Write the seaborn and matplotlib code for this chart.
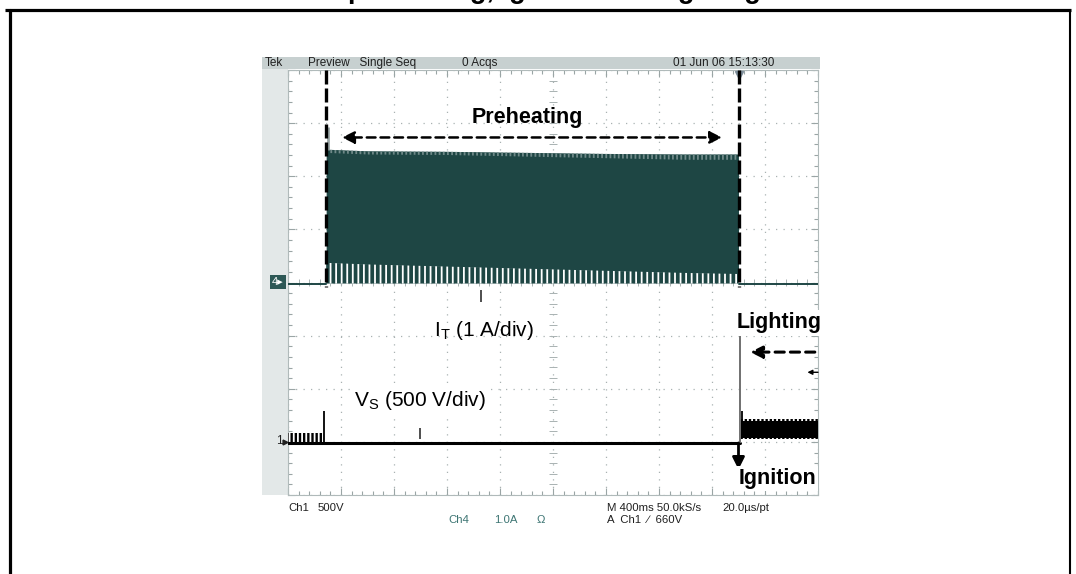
import numpy as np
import matplotlib
matplotlib.use("Agg")
import matplotlib.pyplot as plt
from matplotlib.patches import Rectangle
from matplotlib.ticker import MultipleLocator
import seaborn as sns

sns.set_theme(style="white")
plt.rcParams["font.family"] = ["Liberation Sans", "DejaVu Sans"]
plt.rcParams["text.color"] = "black"
plt.rcParams["hatch.color"] = "white"
plt.rcParams["hatch.linewidth"] = 1.3

W, H = 1076, 574
TEAL = "#1e4644"
TEAL_TXT = "#3d7573"

# ---------------------------------------------------------------
# Scope traces, in screen divisions (x: 0..10, y: -4..4)
# ---------------------------------------------------------------
# Ch4 - lamp current I_T (1 A/div)
IT_X = [0.72, 1.5, 3.0, 4.5, 6.0, 7.5, 8.5]
IT_TOP = [2.50, 2.47, 2.46, 2.44, 2.42, 2.41, 2.41]
IT_COMB = [0.37, 0.34, 0.30, 0.26, 0.22, 0.18, 0.16]
IT_EDGE = [2.44, 2.41, 2.40, 2.37, 2.34, 2.31, 2.31]
IT_BASE = -0.02
IT_SPIKE = [0.75, 2.92]
IT_IDLE_PRE = [0.0, 0.72]
IT_IDLE_POST = [8.5, 10.0]

# Ch1 - lamp voltage V_S (500 V/div)
VS_BASE = -3.02
VS_PRE_X = [0.0, 0.68]
VS_PRE_TOP = [-2.83, -2.83]
VS_PRE_SPIKE = [0.68, -2.41]
VS_FLAT_X = [0.0, 8.52]
VS_IGN = [8.52, -0.99]
VS_LIGHT_X = [8.55, 10.0]
VS_LIGHT_LO = [-2.95, -2.95]
VS_LIGHT_IN_LO = [-2.92, -2.92]
VS_LIGHT_IN_HI = [-2.61, -2.61]
VS_LIGHT_HI = [-2.56, -2.56]
VS_LIGHT_SPIKE = [8.56, -2.42]

PRE_START = 0.72
IGN_T = 8.5

fig = plt.figure(figsize=(W / 100, H / 100), dpi=100)

# ---------------------------------------------------------------
# page background / frame / scope chrome (pixel coordinates)
# ---------------------------------------------------------------
bg = fig.add_axes([0, 0, 1, 1], zorder=-1)
bg.set_xlim(0, W)
bg.set_ylim(H, 0)
bg.axis("off")

bg.plot([5, 1071], [10, 10], color="black", lw=2.3, solid_capstyle="butt")
bg.plot([9.5, 9.5], [10, H], color="black", lw=2.3)
bg.plot([1070, 1070], [10, H], color="black", lw=1.5)

bg.add_patch(Rectangle((262, 57), 558, 12, color="#c7d0d0", lw=0))
bg.add_patch(Rectangle((262, 69), 26, 426, color="#e3e8e8", lw=0))

fig.text(348 / W, 1 + 1.5 / H, "preheating, ignition and lighting",
         ha="left", va="baseline", fontsize=19.5, fontweight="bold")

hdr = dict(fontsize=8.5, va="center", color="#202020")
bg.text(265, 63, "Tek", **hdr)
bg.text(308, 63, "Preview   Single Seq", **hdr)
bg.text(462, 63, "0 Acqs", **hdr)
bg.text(673, 63, "01 Jun 06 15:13:30", **hdr)

bot = dict(fontsize=8.2, va="center", color="#202020")
bg.text(288, 508, "Ch1", **bot)
bg.text(318, 508, "500V", **bot)
bg.text(607, 508, "M 400ms 50.0kS/s", **bot)
bg.text(722, 508, "20.0\u00b5s/pt", **bot)
bg.text(607, 520, "A  Ch1  \u2215  660V", **bot)
tl = dict(fontsize=8.2, va="center", color=TEAL_TXT)
bg.text(448, 520, "Ch4", **tl)
bg.text(494, 520, "1.0A", **tl)
bg.text(537, 520, "\u03a9", **tl)

bg.text(272, 282, "4\u25b8", fontsize=8, va="center", color="white",
        bbox=dict(boxstyle="square,pad=0.2", fc="#2d5856", ec="none"))
bg.text(276, 441, "1", fontsize=8.5, va="center", color="#202020")
bg.plot(285, 442, marker=">", ms=3.5, color="#202020")

# ---------------------------------------------------------------
# graticule
# ---------------------------------------------------------------
ax = fig.add_axes([288 / W, 1 - 495 / H, 530 / W, 425 / H])
ax.set_xlim(0, 10)
ax.set_ylim(-4, 4)
ax.set_facecolor("white")
ax.set_xticks(np.arange(0, 11))
ax.set_yticks(np.arange(-4, 5))
ax.xaxis.set_minor_locator(MultipleLocator(0.2))
ax.yaxis.set_minor_locator(MultipleLocator(0.2))
ax.tick_params(which="both", direction="in", top=True, right=True,
               bottom=True, left=True, labelbottom=False, labelleft=False,
               color="#9aa5a5", width=0.8)
ax.tick_params(which="major", length=5)
ax.tick_params(which="minor", length=3)
ax.grid(True, which="major", color="#a9b2b2", ls=(0, (1, 5)), lw=0.9)
for s in ax.spines.values():
    s.set_color("#b0baba")
    s.set_linewidth(0.8)
ax.vlines(np.arange(0.2, 10, 0.2), -0.07, 0.07, color="#a9b2b2", lw=0.7)
ax.hlines(np.arange(-3.8, 4, 0.2), 4.93, 5.07, color="#a9b2b2", lw=0.7)

# Ch4 current burst
ax.fill_between(IT_X, IT_COMB, IT_TOP, color=TEAL, lw=0, zorder=3)
ax.fill_between(IT_X, IT_BASE, IT_COMB, facecolor=TEAL, edgecolor="white",
                hatch="|||", lw=0, zorder=3)
ax.fill_between(IT_X, IT_EDGE, IT_TOP, facecolor=TEAL, edgecolor="#6f8988",
                hatch="||||", lw=0, zorder=3)
ax.vlines(IT_SPIKE[0], IT_TOP[0], IT_SPIKE[1], color="#9aa6a6", lw=2, zorder=3)
sns.lineplot(x=IT_IDLE_PRE, y=[IT_BASE] * 2, ax=ax, color=TEAL, lw=1.4,
             zorder=3)
sns.lineplot(x=IT_IDLE_POST, y=[IT_BASE] * 2, ax=ax, color=TEAL, lw=1.4,
             zorder=3)

# Ch1 voltage
ax.fill_between(VS_PRE_X, VS_BASE, VS_PRE_TOP, facecolor="black",
                edgecolor="white", hatch="||||", lw=0, zorder=4)
ax.vlines(VS_PRE_SPIKE[0], VS_BASE, VS_PRE_SPIKE[1], color="black", lw=1.3,
          zorder=4)
sns.lineplot(x=VS_FLAT_X, y=[VS_BASE] * 2, ax=ax, color="black", lw=2.2,
             zorder=4)
ax.vlines(VS_IGN[0], VS_BASE, VS_IGN[1], color="#707070", lw=1.4, zorder=4)
ax.fill_between(VS_LIGHT_X, VS_LIGHT_IN_LO, VS_LIGHT_IN_HI, color="black",
                lw=0, zorder=4)
ax.fill_between(VS_LIGHT_X, VS_LIGHT_IN_HI, VS_LIGHT_HI, facecolor="black",
                edgecolor="white", hatch="||||", lw=0, zorder=4)
ax.fill_between(VS_LIGHT_X, VS_LIGHT_LO, VS_LIGHT_IN_LO, facecolor="black",
                edgecolor="white", hatch="||||", lw=0, zorder=4)
ax.vlines(VS_LIGHT_SPIKE[0], VS_LIGHT_IN_HI[0], VS_LIGHT_SPIKE[1],
          color="black", lw=1.3, zorder=4)

# cursor marks / trigger marker
ax.vlines(3.64, -0.37, -0.15, color="#303030", lw=1.2, zorder=5)
ax.vlines(2.49, -2.95, -2.73, color="#303030", lw=1.2, zorder=5)
ax.plot(IGN_T, 3.9, marker="v", ms=6, color="#7d8d9a", clip_on=False,
        zorder=6)

# ---------------------------------------------------------------
# annotations
# ---------------------------------------------------------------
for xv in (PRE_START, IGN_T):
    ax.plot([xv, xv], [4.0, -0.08], color="black", lw=2.4,
            dashes=(4.2, 1.2), zorder=6, clip_on=False)

ax.annotate("", xy=(1.02, 2.73), xytext=(8.19, 2.73),
            arrowprops=dict(arrowstyle="<|-|>", lw=1.8, ls=(0, (3.5, 2)),
                            color="black", mutation_scale=18,
                            shrinkA=0, shrinkB=0), zorder=6)
ax.text(4.51, 3.10, "Preheating", ha="center", va="center", fontsize=15.5,
        fontweight="bold", zorder=7)

ax.text(3.7, -0.9, r"I$_\mathregular{T}$ (1 A/div)", ha="center",
        va="center", fontsize=15, zorder=7)
ax.text(2.49, -2.22, r"V$_\mathregular{S}$ (500 V/div)", ha="center",
        va="center", fontsize=15, zorder=7,
        bbox=dict(boxstyle="square,pad=0.1", fc="white", ec="none"))

ax.text(9.26, -0.76, "Lighting", ha="center", va="center", fontsize=15.5,
        fontweight="bold", zorder=7, clip_on=False,
        bbox=dict(boxstyle="square,pad=0.1", fc="white", ec="none"))
ax.annotate("", xy=(8.72, -1.31), xytext=(9.94, -1.31),
            arrowprops=dict(arrowstyle="-|>", lw=2.2, ls=(0, (3, 2)),
                            color="black", mutation_scale=18,
                            shrinkA=0, shrinkB=0), zorder=7)
ax.annotate("", xy=(9.8, -1.69), xytext=(10.0, -1.69),
            arrowprops=dict(arrowstyle="-|>", lw=1, color="black",
                            mutation_scale=7, shrinkA=0, shrinkB=0),
            zorder=7, annotation_clip=False)

ax.annotate("", xy=(IGN_T, -3.52), xytext=(IGN_T, VS_BASE),
            arrowprops=dict(arrowstyle="-|>", lw=2, color="black",
                            mutation_scale=18, shrinkA=0, shrinkB=0),
            zorder=7, annotation_clip=False)
ax.text(9.23, -3.69, "Ignition", ha="center", va="center", fontsize=15.5,
        fontweight="bold", zorder=7, clip_on=False,
        bbox=dict(boxstyle="square,pad=0.1", fc="white", ec="none"))

fig.savefig("out.png", dpi=100)
